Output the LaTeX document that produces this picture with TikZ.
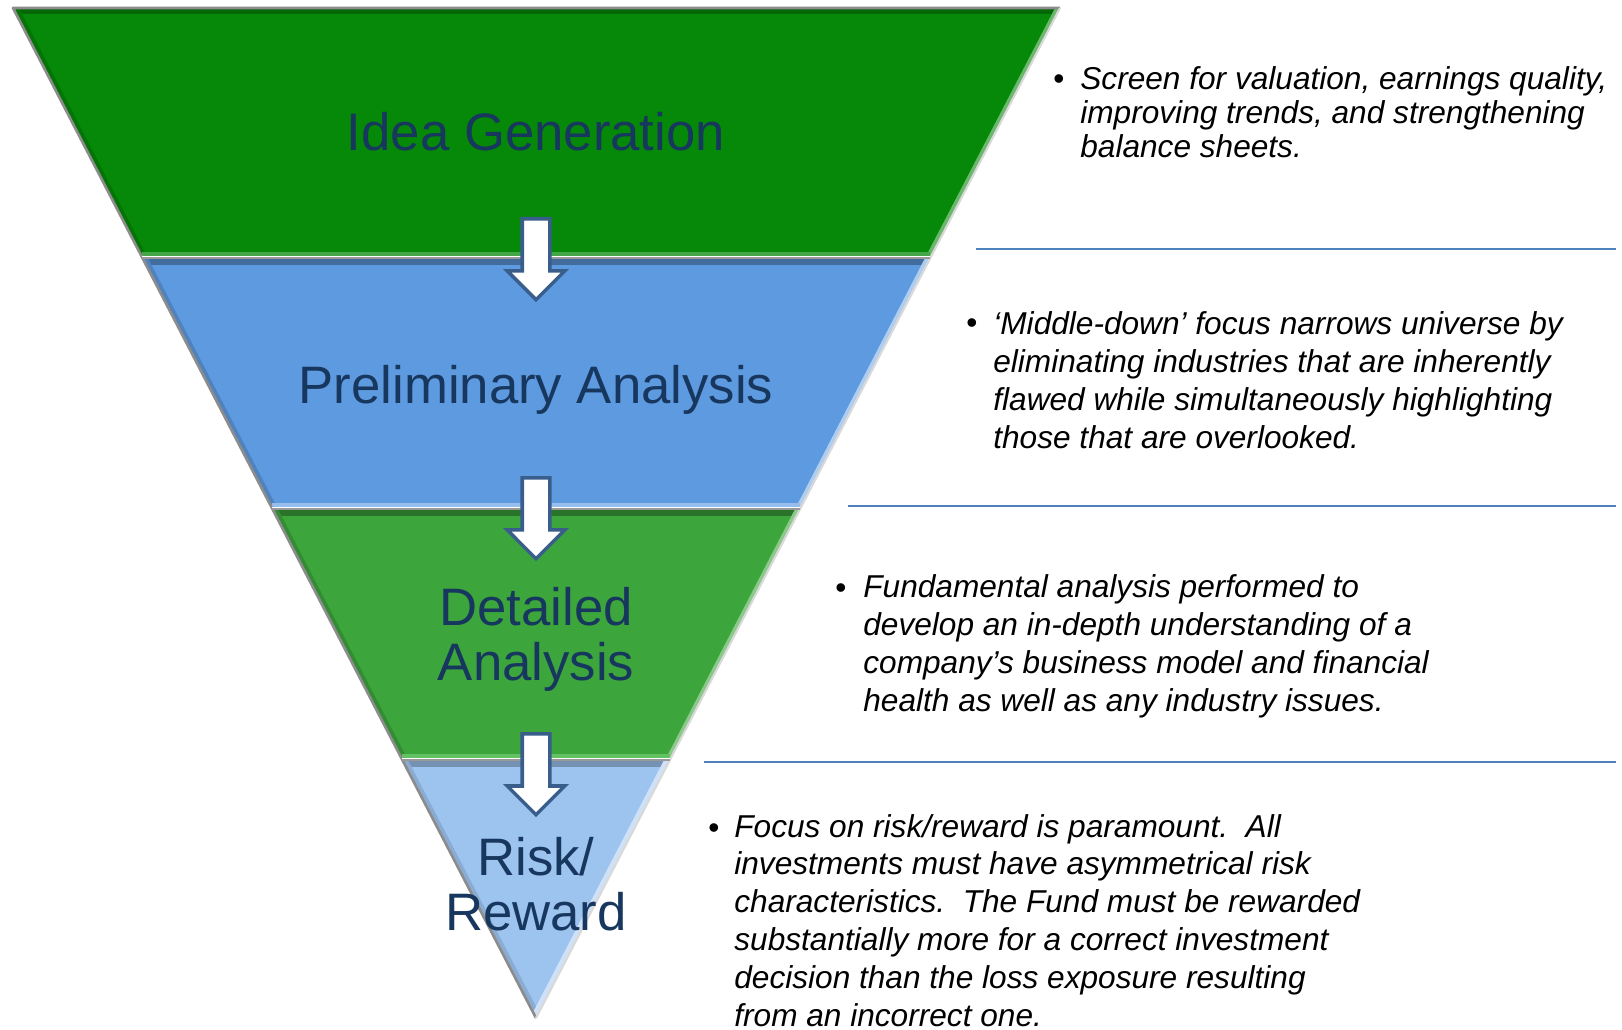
\documentclass[tikz,border=0pt]{standalone}
\usepackage{fontspec}
\setmainfont{Liberation Sans}
\usetikzlibrary{shapes.arrows,calc}

\definecolor{ideagreen}{RGB}{6,136,8}
\definecolor{prelimblue}{RGB}{94,154,224}
\definecolor{detailgreen}{RGB}{60,165,60}
\definecolor{riskblue}{RGB}{157,195,239}
\definecolor{titlenavy}{RGB}{23,55,94}
\definecolor{arrowedge}{RGB}{58,94,140}
\definecolor{ruleblue}{RGB}{79,129,189}

\begin{document}
\begin{tikzpicture}[x=0.02cm,y=-0.02cm,
    rim/.style={draw=black!45,line width=1.5pt,line join=round},
    shine/.style={draw=black!15,line width=1.2pt},
    seam/.style={draw=black!40,line width=1.6pt},
    seamlight/.style={draw=white,line width=1pt},
    flowarrow/.style={single arrow,draw=arrowedge,fill=white,line width=2pt,
      rotate=-90,minimum height=1.62cm,text height=0.24cm,text depth=0.24cm,
      single arrow head extend=0.3cm,single arrow tip angle=90,inner sep=0pt},
    stagetitle/.style={text=titlenavy,font=\fontsize{30}{31}\selectfont,
      align=center,inner sep=0pt,anchor=base},
    note/.style={font=\fontsize{18}{21.5}\selectfont\itshape,align=left,
      inner sep=0pt,anchor=base west},
    dot/.style={font=\fontsize{18}{21.5}\selectfont,inner sep=0pt,anchor=base},
    rule/.style={draw=ruleblue,line width=1.1pt}]
  \useasboundingbox (0,0) rectangle (1622,1030);
  \clip (0,0) rectangle (1622,1030);
  \fill[white] (0,0) rectangle (1622,1030);

  \coordinate (tl) at (13,8);
  \coordinate (tr) at (1060,8);
  \coordinate (l1) at (142,258);
  \coordinate (r1) at (930,258);
  \coordinate (l2) at (272,509);
  \coordinate (r2) at (800,509);
  \coordinate (l3) at (402,760);
  \coordinate (r3) at (670,760);
  \coordinate (tip) at (536,1018);

  \begin{scope}
    \clip (tl) -- (tr) -- (r1) -- (l1) -- cycle;
    \fill[ideagreen] (tl) -- (tr) -- (r1) -- (l1) -- cycle;
    \draw[line width=7pt,ideagreen!75!black] (tl) -- (tr);
    \draw[line width=6pt,ideagreen!85!black] (l1) -- (tl);
    \draw[line width=5pt,ideagreen!60!white] (tr) -- (r1);
    \draw[line width=7pt,ideagreen!75!white] (l1) -- (r1);
  \end{scope}
  \begin{scope}
    \clip (l1) -- (r1) -- (r2) -- (l2) -- cycle;
    \fill[prelimblue] (l1) -- (r1) -- (r2) -- (l2) -- cycle;
    \draw[line width=8pt,prelimblue!70!black] (l1) -- (r1);
    \draw[line width=6pt,prelimblue!85!black] (l2) -- (l1);
    \draw[line width=5pt,prelimblue!50!white] (r1) -- (r2);
    \draw[line width=7pt,prelimblue!65!white] (l2) -- (r2);
  \end{scope}
  \begin{scope}
    \clip (l2) -- (r2) -- (r3) -- (l3) -- cycle;
    \fill[detailgreen] (l2) -- (r2) -- (r3) -- (l3) -- cycle;
    \draw[line width=8pt,detailgreen!70!black] (l2) -- (r2);
    \draw[line width=6pt,detailgreen!85!black] (l3) -- (l2);
    \draw[line width=5pt,detailgreen!60!white] (r2) -- (r3);
    \draw[line width=7pt,detailgreen!75!white!90!green] (l3) -- (r3);
  \end{scope}
  \begin{scope}
    \clip (l3) -- (r3) -- (tip) -- cycle;
    \fill[riskblue] (l3) -- (r3) -- (tip) -- cycle;
    \draw[line width=8pt,riskblue!75!black] (l3) -- (r3);
    \draw[line width=6pt,riskblue!88!black] (tip) -- (l3);
    \draw[line width=6pt,riskblue!50!white] (r3) -- (tip);
  \end{scope}

  \draw[rim] (tip) -- (tl) -- (tr);
  \draw[shine] (tr) -- (tip);
  \draw[seam] (l1) -- (r1);
  \draw[seam] (l2) -- (r2);
  \draw[seam] (l3) -- (r3);
  \draw[seamlight] ($(l1)+(0,-1.5)$) -- ($(r1)+(0,-1.5)$);
  \draw[seamlight] ($(l2)+(0,-1.5)$) -- ($(r2)+(0,-1.5)$);
  \draw[seamlight] ($(l3)+(0,-1.5)$) -- ($(r3)+(0,-1.5)$);

  \node[stagetitle] (idea) at (536,151) {Idea Generation};
  \node[stagetitle] (prelim) at (536,403) {Preliminary Analysis};
  \node[stagetitle] (detail) at (536,680) {Detailed\\Analysis};
  \node[stagetitle] (risk) at (536,930) {Risk/\\Reward};

  \node[flowarrow,anchor=tail] (drop1) at (536,217) {};
  \node[flowarrow,anchor=tail] (drop2) at (536,476) {};
  \node[flowarrow,anchor=tail] (drop3) at (536,732) {};

  \coordinate (s1a) at (976,249);
  \coordinate (s1b) at (1616,249);
  \coordinate (s2a) at (848,506);
  \coordinate (s2b) at (1616,506);
  \coordinate (s3a) at (704,762);
  \coordinate (s3b) at (1616,762);
  \draw[rule] (s1a) -- (s1b);
  \draw[rule] (s2a) -- (s2b);
  \draw[rule] (s3a) -- (s3b);

  \node[dot] (b1) at (1059,90) {\textbullet};
  \node[note,font=\fontsize{18}{19.4}\selectfont\itshape] (n1) at (1080,158)
    {Screen for valuation, earnings quality,\\improving trends, and strengthening\\balance sheets.};
  \node[dot] (b2) at (972,334) {\textbullet};
  \node[note] (n2) at (993,448)
    {‘Middle-down’ focus narrows universe by\\eliminating industries that are inherently\\flawed while simultaneously highlighting\\those that are overlooked.};
  \node[dot] (b3) at (841,598) {\textbullet};
  \node[note] (n3) at (863,711)
    {Fundamental analysis performed to\\develop an in-depth understanding of a\\company’s business model and financial\\health as well as any industry issues.};
  \node[dot] (b4) at (714,838) {\textbullet};
  \node[note] (n4) at (734,1026)
    {Focus on risk/reward is paramount.~~All\\investments must have asymmetrical risk\\characteristics.~~The Fund must be rewarded\\substantially more for a correct investment\\decision than the loss exposure resulting\\from an incorrect one.};
\end{tikzpicture}
\end{document}
